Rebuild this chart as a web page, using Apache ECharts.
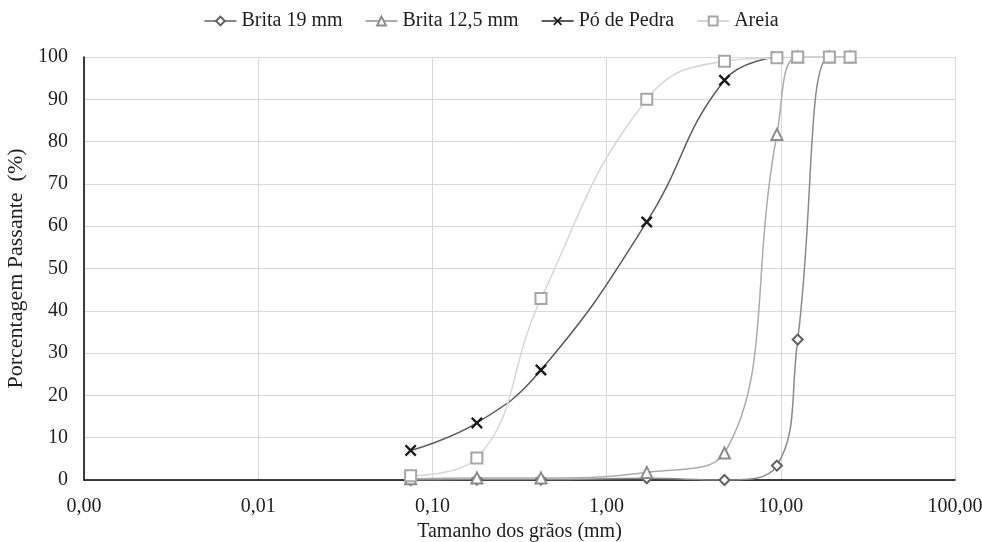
<!DOCTYPE html>
<html>
<head>
<meta charset="utf-8">
<script src="https://cdn.jsdelivr.net/npm/echarts@6/dist/echarts.min.js"></script>
<style>
  html, body { margin: 0; padding: 0; background: #fff; }
  #chart { width: 982px; height: 542px; }
</style>
</head>
<body>
<div id="chart"></div>
<script>
// Sieve openings (mm) and percent passing for each material
const sizes = [0.075, 0.18, 0.42, 1.7, 4.75, 9.5, 12.5, 19, 25];
const brita19 = [0, 0.1, 0.1, 0.4, 0, 3.4, 33.2, 100, 100];
const brita125 = [0.3, 0.5, 0.5, 1.8, 6.4, 81.7, 100, 100, 100];
const poDePedra = [7, 13.5, 26, 61, 94.5, 100];
const areia = [1, 5.2, 42.9, 90, 99, 99.8, 100, 100, 100];

const seriesNames = ['Brita 19 mm', 'Brita 12,5 mm', 'Pó de Pedra', 'Areia'];
const yTicks = { min: 0, max: 100, interval: 10 };

const pairs = vals => vals.map((v, i) => [sizes[i], v]);
const fmt = v => Number(v).toFixed(2).replace('.', ',');

const font = 'Liberation Serif';
const textColor = '#1e1e1e';
const crossPath = 'path://M0,1.4L1.4,0L5,3.6L8.6,0L10,1.4L6.4,5L10,8.6L8.6,10L5,6.4L1.4,10L0,8.6L3.6,5Z';

const chart = echarts.init(document.getElementById('chart'), null, { renderer: 'canvas' });
chart.setOption({
  animation: false,
  backgroundColor: '#fff',
  textStyle: { fontFamily: font },
  legend: {
    top: 6,
    left: 'center',
    itemGap: 22,
    itemWidth: 32,
    itemHeight: 11,
    textStyle: { fontFamily: font, fontSize: 20, color: textColor },
    data: seriesNames
  },
  grid: { left: 84, right: 27, top: 57, bottom: 62, containLabel: false, outerBoundsMode: 'none' },
  xAxis: {
    type: 'log',
    logBase: 10,
    min: 0.001,
    max: 100,
    name: 'Tamanho dos grãos (mm)',
    nameLocation: 'middle',
    nameGap: 42,
    nameTextStyle: { fontFamily: font, fontSize: 20, color: textColor },
    axisLine: { lineStyle: { color: '#000', width: 1.5 } },
    axisTick: { show: false },
    axisLabel: { formatter: fmt, fontFamily: font, fontSize: 20, color: textColor, margin: 17 },
    splitLine: { show: true, lineStyle: { color: '#d9d9d9', width: 1 } },
    minorTick: { show: false }
  },
  yAxis: {
    type: 'value',
    min: yTicks.min,
    max: yTicks.max,
    interval: yTicks.interval,
    name: 'Porcentagem Passante  (%)',
    nameLocation: 'middle',
    nameGap: 46,
    nameTextStyle: { fontFamily: font, fontSize: 22, color: textColor },
    axisLine: { show: true, lineStyle: { color: '#000', width: 1.5 } },
    axisTick: { show: false },
    axisLabel: { fontFamily: font, fontSize: 20, color: textColor, margin: 16 },
    splitLine: { show: true, lineStyle: { color: '#d9d9d9', width: 1 } }
  },
  series: [
    {
      name: seriesNames[0], type: 'line', smooth: 0.45, data: pairs(brita19),
      symbol: 'diamond', symbolSize: 10,
      lineStyle: { color: '#8a8a8a', width: 1.5 },
      itemStyle: { color: '#fff', borderColor: '#606060', borderWidth: 2 }
    },
    {
      name: seriesNames[1], type: 'line', smooth: 0.45, data: pairs(brita125),
      symbol: 'triangle', symbolSize: 11,
      lineStyle: { color: '#ababab', width: 1.5 },
      itemStyle: { color: '#fff', borderColor: '#8c8c8c', borderWidth: 2 }
    },
    {
      name: seriesNames[2], type: 'line', smooth: 0.45, data: pairs(poDePedra),
      symbol: crossPath, symbolSize: 12,
      lineStyle: { color: '#5c5c5c', width: 1.5 },
      itemStyle: { color: '#1a1a1a', borderWidth: 0 }
    },
    {
      name: seriesNames[3], type: 'line', smooth: 0.45, data: pairs(areia),
      symbol: 'rect', symbolSize: 11,
      lineStyle: { color: '#d6d6d6', width: 1.5 },
      itemStyle: { color: '#fff', borderColor: '#a6a6a6', borderWidth: 2 }
    }
  ]
});
</script>
</body>
</html>
